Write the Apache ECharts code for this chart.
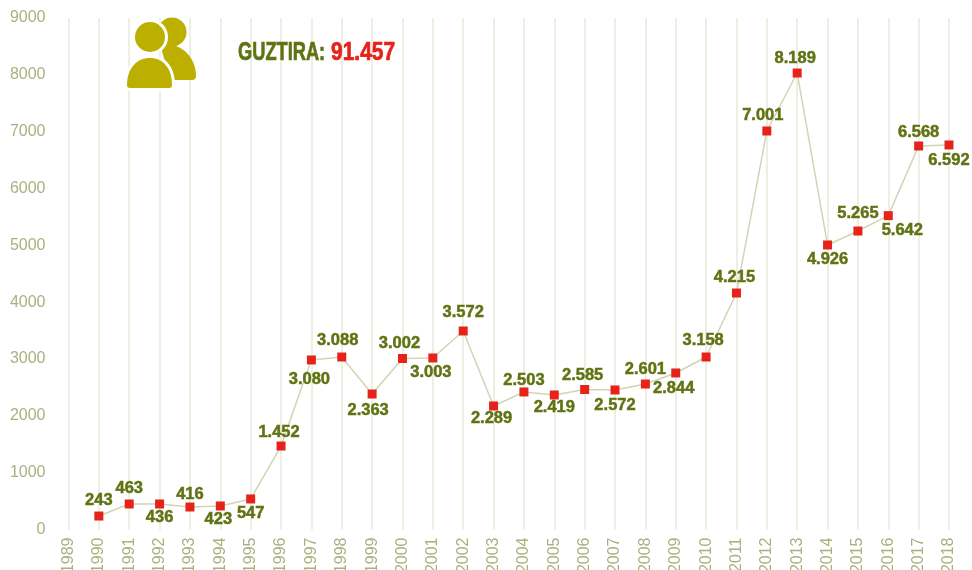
<!DOCTYPE html>
<html lang="en">
<head>
    <meta charset="UTF-8">
    <title>Guztira</title>
    <script src="https://cdn.jsdelivr.net/npm/echarts@6/dist/echarts.min.js"></script>
    <style>
        html, body { margin: 0; padding: 0; background: #fff; }
        #chart { width: 972px; height: 570px; }
    </style>
</head>
<body>
    <div id="chart"></div>
    <script>
        var years = ['1989', '1990', '1991', '1992', '1993', '1994', '1995', '1996', '1997', '1998',
            '1999', '2000', '2001', '2002', '2003', '2004', '2005', '2006', '2007', '2008', '2009',
            '2010', '2011', '2012', '2013', '2014', '2015', '2016', '2017', '2018'];

        // heights as drawn in the picture (they sit a bit off the printed labels)
        var values = [null, 237, 449, 449, 396, 414, 537, 1469, 2983, 3035, 2384, 3009, 3018, 3493,
            2173, 2420, 2367, 2463, 2455, 2560, 2754, 3035, 4161, 7012, 8032, 5006, 5252, 5522, 6748, 6766];

        var valueLabels = ['', '243', '463', '436', '416', '423', '547', '1.452', '3.080', '3.088',
            '2.363', '3.002', '3.003', '3.572', '2.289', '2.503', '2.419', '2.585', '2.572', '2.601',
            '2.844', '3.158', '4.215', '7.001', '8.189', '4.926', '5.265', '5.642', '6.568', '6.592'];

        var labelOffsets = [[0, 0], [0, -16], [0, -16], [0, 13], [0, -13], [-2, 13], [0, 14], [-2, -14],
            [-2, 19], [-4, -17], [-4, 16], [-3, -15], [-2, 14], [0, -19], [-2, 12], [0, -12], [0, 12],
            [-2, -14], [0, 15], [0, -15], [-2, 15], [-3, -17], [-2, -16], [-4, -16], [-2, -15], [0, 14],
            [0, -18], [14, 15], [0, -14], [0, 15]];

        var totalLabel = 'GUZTIRA:';
        var totalValue = '91.457';

        var OLIVE = '#5f7313';
        var RED = '#e5231b';
        var ICON = '#bcaf00';
        var boldFont = '"Liberation Sans", sans-serif';

        // the graphic component has no plain path type, so the two bodies of the icon are registered
        echarts.graphic.registerShape('frontBody', echarts.graphic.extendShape({
            buildPath: function (ctx) {
                ctx.moveTo(127, 85);
                ctx.bezierCurveTo(127, 68, 137, 58, 150, 58);
                ctx.bezierCurveTo(163, 58, 172, 68, 172, 85);
                ctx.quadraticCurveTo(172, 88, 169, 88);
                ctx.lineTo(130, 88);
                ctx.quadraticCurveTo(127, 88, 127, 85);
                ctx.closePath();
            }
        }));
        echarts.graphic.registerShape('backBody', echarts.graphic.extendShape({
            buildPath: function (ctx) {
                ctx.moveTo(160, 44);
                ctx.bezierCurveTo(182, 42, 196, 58, 196, 76);
                ctx.quadraticCurveTo(196, 80, 192, 80);
                ctx.lineTo(170, 80);
                ctx.closePath();
            }
        }));

        var chart = echarts.init(document.getElementById('chart'), null, { renderer: 'canvas' });

        var seriesData = values.map(function (v, i) {
            return {
                value: v,
                label: {
                    show: true,
                    position: 'inside',
                    formatter: valueLabels[i]
                }
            };
        });

        chart.setOption({
            animation: false,
            backgroundColor: '#fff',
            grid: { left: 68.5, right: 23, top: 18, bottom: 40.5, outerBoundsMode: 'none' },
            xAxis: {
                type: 'category',
                data: years,
                boundaryGap: false,
                axisLine: { show: false },
                axisTick: { show: false },
                axisLabel: {
                    rotate: 90,
                    interval: 0,
                    margin: 8,
                    color: '#a9b17f',
                    fontFamily: 'Liberation Sans',
                    fontSize: 16
                },
                splitLine: { show: true, interval: 0, lineStyle: { color: '#eeefe3', width: 2 } }
            },
            yAxis: {
                type: 'value',
                min: 0,
                max: 9000,
                interval: 1000,
                axisLine: { show: false },
                axisTick: { show: false },
                splitLine: { show: false },
                axisLabel: {
                    margin: 23,
                    color: '#a9b17f',
                    fontFamily: 'Liberation Sans',
                    fontSize: 16,
                    formatter: function (v) { return String(v); }
                }
            },
            series: [{
                type: 'line',
                data: seriesData,
                connectNulls: false,
                symbol: 'rect',
                symbolSize: 9,
                itemStyle: { color: RED },
                lineStyle: { color: '#d2d4b4', width: 1.5 },
                label: {
                    color: OLIVE,
                    fontFamily: boldFont,
                    fontWeight: 'bold',
                    fontSize: 16.5,
                    textBorderColor: OLIVE,
                    textBorderWidth: 0.5
                },
                labelLayout: function (params) {
                    var off = labelOffsets[params.dataIndex];
                    return { dx: off[0], dy: off[1], hideOverlap: false };
                }
            }],
            graphic: [
                { type: 'circle', z: 10, shape: { cx: 172, cy: 32, r: 14.5 }, style: { fill: ICON } },
                { type: 'backBody', z: 10, style: { fill: ICON } },
                // white halo first, then the front figure on top of it
                { type: 'circle', z: 10, shape: { cx: 150, cy: 37, r: 18 }, style: { fill: '#fff' } },
                { type: 'frontBody', z: 10, style: { fill: '#fff', stroke: '#fff', lineWidth: 6 } },
                { type: 'circle', z: 10, shape: { cx: 150, cy: 37, r: 15 }, style: { fill: ICON } },
                { type: 'frontBody', z: 10, style: { fill: ICON } },
                {
                    type: 'text',
                    z: 10,
                    x: 238,
                    y: 40.5,
                    scaleX: 0.73,
                    style: {
                        text: totalLabel,
                        fill: OLIVE,
                        stroke: OLIVE,
                        lineWidth: 0.7,
                        font: 'bold 25px ' + boldFont
                    }
                },
                {
                    type: 'text',
                    z: 10,
                    x: 331,
                    y: 40.5,
                    scaleX: 0.84,
                    style: {
                        text: totalValue,
                        fill: RED,
                        stroke: RED,
                        lineWidth: 0.7,
                        font: 'bold 25px ' + boldFont
                    }
                }
            ]
        });
    </script>
</body>
</html>
